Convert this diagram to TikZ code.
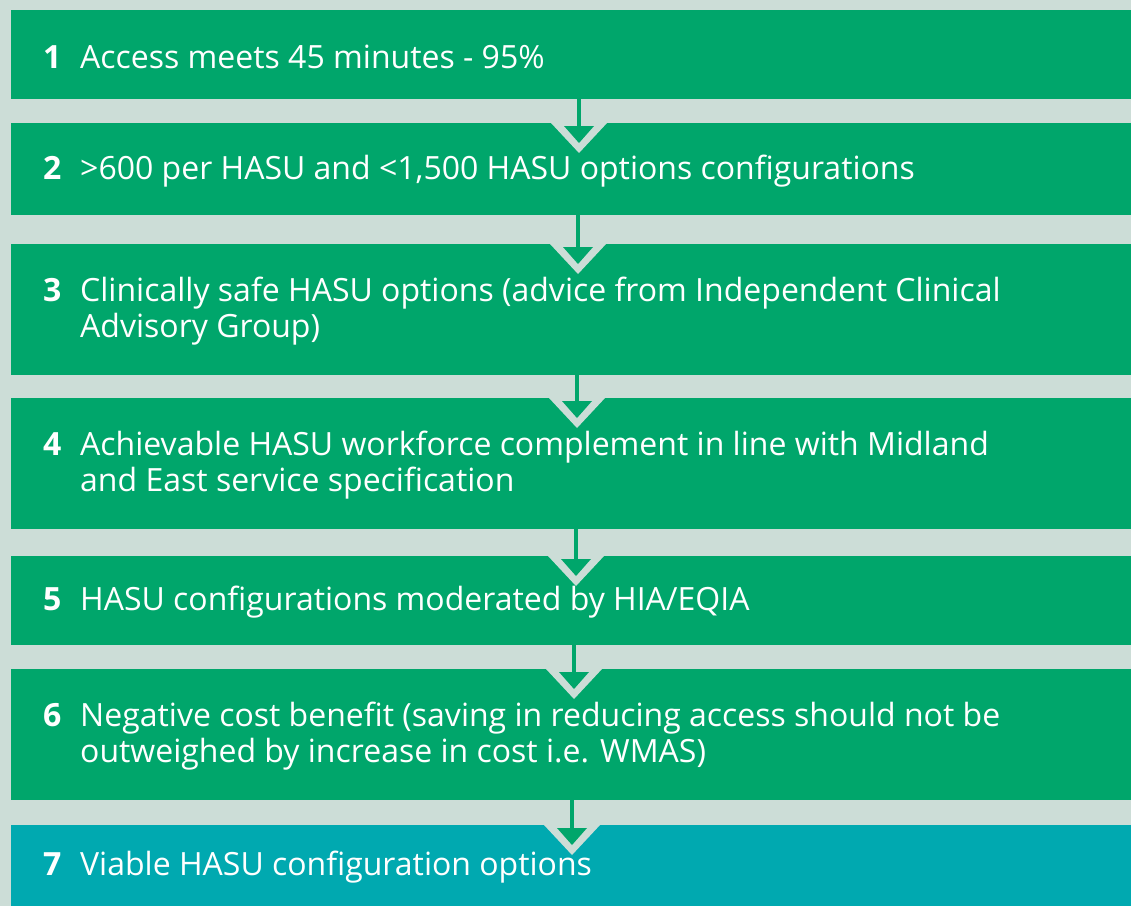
\documentclass[tikz,border=0pt]{standalone}
\usepackage{fontspec}
\setmainfont{Open Sans}
\usetikzlibrary{calc}
\definecolor{hasugreen}{HTML}{00A66B}
\definecolor{hasuteal}{HTML}{00A9B0}
\definecolor{hasubg}{HTML}{CCDDD7}
\tikzset{
  stage/.style={rectangle,fill=hasugreen,anchor=north west,minimum width=1120pt,
    inner sep=0pt,outer sep=0pt},
  stagetext/.style={anchor=west,text=white,align=left,inner sep=0pt,
    font=\fontsize{32}{36}\selectfont},
}
\newcommand{\stagenum}[1]{\makebox[37pt][l]{\bfseries #1}}
\newcommand{\stageindent}{\hspace*{37pt}}

\begin{document}
\begin{tikzpicture}[x=1pt,y=-1pt]
      \fill[hasubg] (0,0) rectangle (1131,906);
      \useasboundingbox (0,0) rectangle (1131,906);
      % the stages
      \node[stage,minimum height=89pt] (b1) at (11,10) {};
      \node[stage,minimum height=92pt] (b2) at (11,123) {};
      \node[stage,minimum height=131pt] (b3) at (11,244) {};
      \node[stage,minimum height=131pt] (b4) at (11,398) {};
      \node[stage,minimum height=89pt] (b5) at (11,556) {};
      \node[stage,minimum height=131pt] (b6) at (11,669) {};
      \node[stage,fill=hasuteal,minimum height=81pt] (b7) at (11,825) {};
      \node[stagetext] (t1) at ($(b1.west)+(32,2)$) {\stagenum{1}Access meets 45 minutes - 95\%};
      \node[stagetext] (t2) at ($(b2.west)+(32,2)$) {\stagenum{2}>600 per HASU and <1,500 HASU options configurations};
      \node[stagetext] (t3) at ($(b3.west)+(32,2)$) {\stagenum{3}Clinically safe HASU options (advice from Independent Clinical\\\stageindent Advisory Group)};
      \node[stagetext] (t4) at ($(b4.west)+(32,2)$) {\stagenum{4}Achievable HASU workforce complement in line with Midland\\\stageindent and East service specification};
      \node[stagetext] (t5) at ($(b5.west)+(32,2)$) {\stagenum{5}HASU configurations moderated by HIA/EQIA};
      \node[stagetext] (t6) at ($(b6.west)+(32,2)$) {\stagenum{6}Negative cost benefit (saving in reducing access should not be\\\stageindent outweighed by increase in cost i.e. WMAS)};
      \node[stagetext] (t7) at ($(b7.west)+(32,2)$) {\stagenum{7}Viable HASU configuration options};
      % arrows between the stages
      \foreach \a/\b/\dx in {1/2/8,2/3/7,3/4/6,4/5/5,5/6/3,6/7/1}{
        \coordinate (tip) at ($(b\b.north)+(\dx,0)$);
        \fill[hasubg] ($(tip)+(-28,0)$) -- ($(tip)+(28,0)$) -- ($(tip)+(0,30)$) -- cycle;
        \fill[hasugreen] ($(tip)+(-15,3)$) -- ($(tip)+(15,3)$) -- ($(tip)+(0,20)$) -- cycle;
        \draw[hasugreen,line width=4pt] ($(b\a.south)+(\dx,0)$) -- ($(tip)+(0,4)$);
      }
\end{tikzpicture}
\end{document}
